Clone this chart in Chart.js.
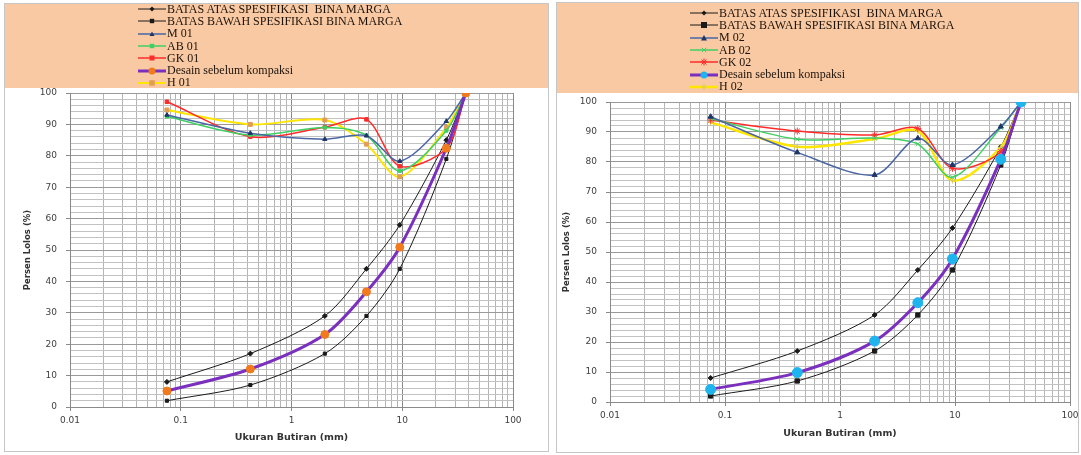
<!DOCTYPE html>
<html>
<head>
<meta charset="utf-8">
<script src="https://cdn.jsdelivr.net/npm/chart.js@4.4.0/dist/chart.umd.min.js"></script>
<style>
  body { margin: 0; width: 1081px; height: 455px; position: relative; overflow: hidden; background: #fff; }
  .panel { position: absolute; border: 1px solid #c6c6c6; box-sizing: border-box; background: #fff; }
  .legbox { position: absolute; background: #f8c9a2; }
  .legend { position: absolute; margin: 0; padding: 0; list-style: none;
            font-family: "Liberation Serif", "Times New Roman", serif; font-size: 12px; color: #1d130b; }
  .legend li { height: 12.3px; display: flex; align-items: center; white-space: pre; }
  .legend canvas { margin-right: 1px; }
  .plot { position: absolute; }
</style>
</head>
<body>
<div class="panel" style="left:4px;top:3px;width:545px;height:449px"></div>
<div class="panel" style="left:556px;top:2px;width:523px;height:451px"></div>
<div class="legbox" style="left:5px;top:4px;width:543px;height:84px"></div>
<div class="legbox" style="left:557px;top:3px;width:521px;height:90px"></div>
<ul class="legend" id="leg1" style="left:138px;top:3px"></ul>
<ul class="legend" id="leg2" style="left:690px;top:7px"></ul>
<div class="plot" style="left:5px;top:84px;width:543px;height:366px"><canvas id="c1"></canvas></div>
<div class="plot" style="left:557px;top:93px;width:521px;height:358px"><canvas id="c2"></canvas></div>

<script>
// sieve sizes (mm)
const sieveSizes = [0.075, 0.425, 2, 4.75, 9.5, 25, 37.5];

// spec limits
const upperSpec = [8, 17, 29, 44, 58, 85, 100];
const lowerSpec = [2, 7, 17, 29, 44, 79, 100];

// sample 01
const m01 = [93, 87.2, 85.3, 86.4, 78.3, 91, 100];
const ab01 = [92.5, 86.6, 89, 86.5, 75.2, 88, 100];
const gk01 = [97.2, 86.1, 89.1, 91.6, 76.7, 82.4, 100];
const design01 = [5.1, 12.1, 23.1, 36.7, 50.9, 82.4, 100];
const h01 = [94.6, 90, 91.4, 83.7, 73.3, 89, 100];

// sample 02
const m02 = [95.1, 83.2, 75.7, 87.9, 79, 91.8, 100];
const ab02 = [94.5, 87.6, 88, 86, 74.9, 91.4, 100];
const gk02 = [94, 90.3, 89, 91.2, 77.9, 83.4, 100];
const design02 = [4.2, 9.8, 20.3, 33.1, 47.7, 80.9, 100];
const h02 = [93.2, 85.1, 87.7, 90.3, 73.8, 84.9, 100];

const xDecades = [0.01, 0.1, 1, 10, 100];
const yMajorStep = 10;
const yMinorStep = 2;

const labels01 = ["BATAS ATAS SPESIFIKASI  BINA MARGA", "BATAS BAWAH SPESIFIKASI BINA MARGA",
  "M 01", "AB 01", "GK 01", "Desain sebelum kompaksi", "H 01"];
const labels02 = ["BATAS ATAS SPESIFIKASI  BINA MARGA", "BATAS BAWAH SPESIFIKASI BINA MARGA",
  "M 02", "AB 02", "GK 02", "Desain sebelum kompaksi", "H 02"];

function series(label, values, o) {
  return {
    label: label,
    data: values.map((v, i) => ({ x: sieveSizes[i], y: v })),
    borderColor: o.line,
    borderWidth: o.width,
    pointStyle: o.point,
    pointRadius: o.radius,
    pointBackgroundColor: o.pointColor || o.line,
    pointBorderColor: o.pointColor || o.line,
    pointBorderWidth: 1,
    tension: 0.3,
    fill: false,
    order: o.order,
  };
}

function isDecade(v) {
  const l = Math.log10(v);
  return Math.abs(l - Math.round(l)) < 1e-6;
}

function xGridValues() {
  const out = [];
  xDecades.forEach((d, i) => {
    if (i === xDecades.length - 1) { out.push(d); return; }
    for (let k = 1; k <= 9; k++) out.push(Math.round(d * k * 1e6) / 1e6);
  });
  return out;
}

function options(yWidth, yTitlePad, xHeight, xTitlePad, pad) {
  const tickFont = { family: "DejaVu Sans", size: 9 };
  return {
    responsive: true,
    maintainAspectRatio: false,
    animation: false,
    layout: { padding: pad },
    plugins: { legend: { display: false }, tooltip: { enabled: false } },
    scales: {
      x: {
        type: "logarithmic",
        min: 0.01,
        max: 100,
        afterBuildTicks: (s) => { s.ticks = xGridValues().map((v) => ({ value: v })); },
        afterFit: (s) => { s.height = xHeight; s.paddingLeft = 0; s.paddingRight = 0; },
        ticks: {
          autoSkip: false, maxRotation: 0, padding: 4, color: "#404040", font: tickFont,
          callback: (v) => (isDecade(v) ? String(Math.pow(10, Math.round(Math.log10(v)))) : ""),
        },
        grid: {
          color: (c) => (c.tick && isDecade(c.tick.value) ? "#8a8a8a" : "#b4b4b4"),
          tickLength: 4,
          tickColor: (c) => (c.tick && isDecade(c.tick.value) ? "#8a8a8a" : "rgba(0,0,0,0)"),
        },
        border: { color: "#8a8a8a" },
        title: {
          display: true, text: "Ukuran Butiran (mm)", color: "#333",
          font: { family: "DejaVu Sans", size: 9.5, weight: "bold" }, padding: { top: 2, bottom: xTitlePad },
        },
      },
      y: {
        min: 0,
        max: 100,
        afterFit: (s) => { s.width = yWidth; s.paddingTop = 0; s.paddingBottom = 0; },
        ticks: {
          stepSize: yMinorStep, autoSkip: false, padding: 9, color: "#404040", font: tickFont,
          callback: (v) => (v % yMajorStep === 0 ? v : ""),
        },
        grid: {
          color: (c) => (c.tick && c.tick.value % yMajorStep === 0 ? "#9a9a9a" : "#c2c2c2"),
          tickLength: 4,
          tickColor: (c) => (c.tick && c.tick.value % yMajorStep === 0 ? "#8a8a8a" : "rgba(0,0,0,0)"),
        },
        border: { color: "#8a8a8a" },
        title: {
          display: true, text: "Persen Lolos (%)", color: "#333",
          font: { family: "DejaVu Sans", size: 8.5, weight: "bold" }, padding: { top: yTitlePad, bottom: 8 },
        },
      },
    },
  };
}

function drawMarker(ctx, style, x, y, r, color) {
  ctx.fillStyle = color;
  ctx.strokeStyle = color;
  ctx.lineWidth = 1;
  ctx.beginPath();
  if (style === "rect") {
    ctx.fillRect(x - r, y - r, 2 * r, 2 * r);
  } else if (style === "rectRot") {
    ctx.moveTo(x, y - r); ctx.lineTo(x + r, y); ctx.lineTo(x, y + r); ctx.lineTo(x - r, y); ctx.fill();
  } else if (style === "triangle") {
    ctx.moveTo(x, y - r); ctx.lineTo(x + r, y + r * 0.8); ctx.lineTo(x - r, y + r * 0.8); ctx.fill();
  } else if (style === "cross" || style === "crossRot" || style === "star") {
    const a = [];
    if (style !== "crossRot") a.push(0, Math.PI / 2);
    if (style !== "cross") a.push(Math.PI / 4, -Math.PI / 4);
    a.forEach((t) => {
      ctx.moveTo(x - r * Math.cos(t), y - r * Math.sin(t));
      ctx.lineTo(x + r * Math.cos(t), y + r * Math.sin(t));
    });
    ctx.stroke();
  } else {
    ctx.arc(x, y, r, 0, Math.PI * 2); ctx.fill();
  }
}

function buildLegend(id, datasets) {
  const ul = document.getElementById(id);
  datasets.forEach((d) => {
    const li = document.createElement("li");
    const cv = document.createElement("canvas");
    cv.width = 28; cv.height = 10;
    const ctx = cv.getContext("2d");
    ctx.strokeStyle = d.borderColor;
    ctx.lineWidth = d.borderWidth;
    ctx.beginPath(); ctx.moveTo(0, 5); ctx.lineTo(28, 5); ctx.stroke();
    drawMarker(ctx, d.pointStyle, 14, 5, Math.min(d.pointRadius, 3.5), d.pointBackgroundColor);
    li.appendChild(cv);
    const span = document.createElement("span");
    span.textContent = d.label;
    li.appendChild(span);
    ul.appendChild(li);
  });
}

const sets01 = [
  series(labels01[0], upperSpec, { line: "#1a1a1a", width: 1, point: "rectRot", radius: 2.5, order: 2 }),
  series(labels01[1], lowerSpec, { line: "#1a1a1a", width: 1, point: "rect", radius: 2.2, order: 2 }),
  series(labels01[2], m01, { line: "#4a66a4", width: 1.5, point: "triangle", radius: 2.5, pointColor: "#1f3566", order: 1 }),
  series(labels01[3], ab01, { line: "#3fcf62", width: 1.5, point: "rect", radius: 2.2, order: 1 }),
  series(labels01[4], gk01, { line: "#ff2b2b", width: 1.5, point: "rect", radius: 2.5, order: 1 }),
  series(labels01[5], design01, { line: "#7b2fbe", width: 3, point: "circle", radius: 4, pointColor: "#f07a1c", order: 0 }),
  series(labels01[6], h01, { line: "#ffe600", width: 2, point: "rect", radius: 2.8, pointColor: "#e49d55", order: 1 }),
];

const sets02 = [
  series(labels02[0], upperSpec, { line: "#1a1a1a", width: 1, point: "rectRot", radius: 2.5, order: 2 }),
  series(labels02[1], lowerSpec, { line: "#1a1a1a", width: 1, point: "rect", radius: 3, order: 2 }),
  series(labels02[2], m02, { line: "#4a66a4", width: 1.5, point: "triangle", radius: 3, pointColor: "#1f3566", order: 1 }),
  series(labels02[3], ab02, { line: "#3fcf62", width: 1.5, point: "crossRot", radius: 3, order: 1 }),
  series(labels02[4], gk02, { line: "#ff2b2b", width: 1.5, point: "star", radius: 3.5, order: 1 }),
  series(labels02[5], design02, { line: "#7b2fbe", width: 3, point: "circle", radius: 5, pointColor: "#1eb4ee", order: 0 }),
  series(labels02[6], h02, { line: "#ffe600", width: 2.5, point: "cross", radius: 3, pointColor: "#d8c95a", order: 1 }),
];

buildLegend("leg1", sets01);
buildLegend("leg2", sets02);

new Chart(document.getElementById("c1"), {
  type: "line",
  data: { datasets: sets01 },
  options: options(65, 18, 43, 7, { top: 9, right: 35, left: 0, bottom: 0 }),
});

new Chart(document.getElementById("c2"), {
  type: "line",
  data: { datasets: sets02 },
  options: options(53, 5, 49, 12, { top: 9, right: 8, left: 0, bottom: 0 }),
});
</script>
</body>
</html>
